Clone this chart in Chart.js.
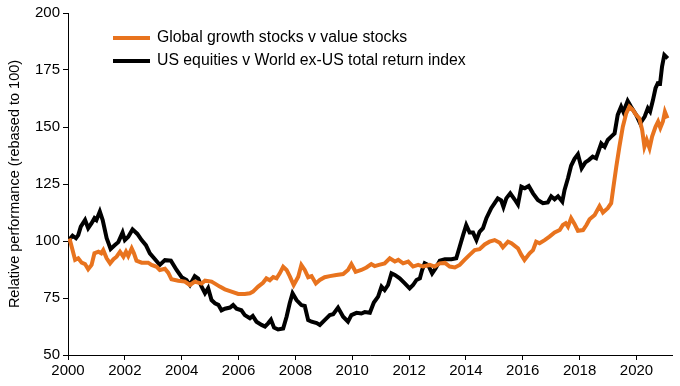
<!DOCTYPE html>
<html>
<head>
<meta charset="utf-8">
<script src="https://cdn.jsdelivr.net/npm/chart.js@4"></script>
<style>
  html, body { margin: 0; padding: 0; background: #fff; }
  #wrap { width: 680px; height: 386px; }
</style>
</head>
<body>
<div id="wrap"><canvas id="perfChart"></canvas></div>
<script>
// Series labels
const seriesNames = ['Global growth stocks v value stocks', 'US equities v World ex-US total return index'];

// Global growth v value (year, index)
const growthDates = [2000.0, 2000.07, 2000.16, 2000.25, 2000.36, 2000.48, 2000.6, 2000.71, 2000.83, 2000.93,
  2001.07, 2001.17, 2001.24, 2001.36, 2001.48, 2001.6, 2001.71, 2001.83, 2001.95, 2002.04,
  2002.12, 2002.24, 2002.32, 2002.41, 2002.59, 2002.82, 2002.94, 2003.12, 2003.23, 2003.41,
  2003.53, 2003.64, 2003.88, 2004.11, 2004.29, 2004.46, 2004.7, 2004.82, 2005.05, 2005.17,
  2005.34, 2005.52, 2005.75, 2005.99, 2006.22, 2006.4, 2006.51, 2006.69, 2006.86, 2006.98,
  2007.1, 2007.22, 2007.34, 2007.45, 2007.57, 2007.69, 2007.8, 2007.94, 2008.1, 2008.21,
  2008.33, 2008.45, 2008.57, 2008.72, 2008.86, 2009.03, 2009.21, 2009.44, 2009.68, 2009.85,
  2009.97, 2010.12, 2010.32, 2010.5, 2010.67, 2010.79, 2010.94, 2011.14, 2011.32, 2011.5,
  2011.62, 2011.79, 2011.97, 2012.14, 2012.32, 2012.49, 2012.73, 2012.9, 2013.08, 2013.26,
  2013.43, 2013.61, 2013.78, 2013.95, 2014.13, 2014.31, 2014.48, 2014.66, 2014.83, 2015.01,
  2015.19, 2015.3, 2015.48, 2015.6, 2015.83, 2015.95, 2016.06, 2016.24, 2016.36, 2016.47,
  2016.59, 2016.77, 2016.94, 2017.12, 2017.3, 2017.41, 2017.51, 2017.59, 2017.7, 2017.82,
  2017.94, 2018.12, 2018.24, 2018.35, 2018.53, 2018.7, 2018.82, 2018.99, 2019.11, 2019.19,
  2019.29, 2019.4, 2019.52, 2019.64, 2019.75, 2019.87, 2019.99, 2020.1, 2020.2, 2020.28,
  2020.36, 2020.46, 2020.55, 2020.67, 2020.76, 2020.84, 2020.93, 2021.0, 2021.09];
const growthValues = [100, 100.3, 96, 91.7, 92.4, 90.5, 89.9, 87.6, 89.5, 94.6,
  95.3, 94.6, 96, 92.4, 90.2, 92, 93.1, 95.3, 93.1, 95.3,
  93.4, 96.8, 94.6, 91.4, 90.5, 90.5, 89.5, 88.7, 87.3, 87.8,
  86, 83.2, 82.6, 82.2, 80.7, 82.2, 81.3, 82.6, 82.2, 81.3,
  80, 78.8, 77.8, 76.8, 76.8, 77.1, 77.8, 80, 81.7, 83.6,
  82.8, 84.2, 83.6, 85.8, 88.7, 87.3, 84.6, 80.7, 84.3, 89.5,
  87.3, 84.1, 84.6, 81.4, 82.9, 84.1, 84.6, 85.1, 85.5, 87.3,
  89.9, 86.5, 87.3, 88.4, 89.9, 89, 89.5, 90.2, 92.4, 91,
  91.7, 90.2, 91, 88.8, 89.5, 88.8, 89.5, 88.8, 90.2, 90.4,
  88.8, 88.4, 89.5, 91.7, 93.9, 96, 96.4, 98.5, 99.7, 100.4,
  99.2, 97.2, 99.7, 99, 96.8, 93.9, 91.7, 94.6, 96, 99.7,
  99, 100.4, 101.9, 103.7, 104.8, 107, 107.8, 106.3, 110, 107.5,
  104.5, 104.8, 107, 109.5, 111.4, 115.3, 112.5, 114.4, 116.6, 123.8,
  132.6, 141.4, 150.1, 156, 158.9, 157.5, 155.3, 153.8, 148.7, 141.4,
  144.3, 140.7, 145.8, 150.1, 152.4, 149.6, 152.4, 156.7, 153.8];

// US equities v World ex-US (year, index)
const usDates = [2000.0, 2000.07, 2000.16, 2000.28, 2000.36, 2000.45, 2000.6, 2000.71, 2000.83, 2000.93,
  2001.0, 2001.12, 2001.22, 2001.36, 2001.5, 2001.65, 2001.77, 2001.92, 2002.0, 2002.12,
  2002.27, 2002.44, 2002.59, 2002.74, 2002.88, 2003.06, 2003.23, 2003.41, 2003.62, 2003.82,
  2004.0, 2004.17, 2004.29, 2004.46, 2004.58, 2004.7, 2004.82, 2004.93, 2005.05, 2005.17,
  2005.29, 2005.4, 2005.52, 2005.7, 2005.81, 2005.93, 2006.1, 2006.22, 2006.4, 2006.5,
  2006.63, 2006.81, 2006.93, 2007.04, 2007.14, 2007.25, 2007.39, 2007.57, 2007.69, 2007.8,
  2007.9, 2008.04, 2008.21, 2008.33, 2008.45, 2008.57, 2008.75, 2008.86, 2009.03, 2009.21,
  2009.33, 2009.5, 2009.68, 2009.85, 2009.97, 2010.15, 2010.32, 2010.44, 2010.62, 2010.76,
  2010.91, 2011.03, 2011.14, 2011.26, 2011.38, 2011.5, 2011.67, 2011.85, 2012.02, 2012.14,
  2012.26, 2012.38, 2012.46, 2012.55, 2012.67, 2012.81, 2012.93, 2013.08, 2013.26, 2013.49,
  2013.66, 2013.78, 2013.9, 2014.01, 2014.13, 2014.25, 2014.37, 2014.48, 2014.6, 2014.72,
  2014.89, 2015.01, 2015.12, 2015.24, 2015.32, 2015.42, 2015.56, 2015.71, 2015.83, 2015.95,
  2016.07, 2016.21, 2016.36, 2016.53, 2016.71, 2016.88, 2017.0, 2017.12, 2017.24, 2017.39,
  2017.47, 2017.59, 2017.7, 2017.82, 2017.94, 2018.07, 2018.2, 2018.32, 2018.46, 2018.58,
  2018.76, 2018.88, 2018.99, 2019.11, 2019.23, 2019.34, 2019.46, 2019.54, 2019.69, 2019.81,
  2019.99, 2020.13, 2020.29, 2020.4, 2020.48, 2020.58, 2020.67, 2020.75, 2020.83, 2020.9,
  2020.98, 2021.1];
const usValues = [100, 101, 102.3, 101.2, 102.6, 106.3, 109.2, 105.6, 107.8, 110,
  109.2, 112.9, 109.2, 101.2, 96.5, 98.2, 99.5, 103.7, 100.4, 101.9,
  105.1, 103.1, 100.4, 98.2, 94.6, 92, 89.5, 91.6, 91.4, 87.3,
  84.1, 82.9, 80.7, 84.6, 83.5, 80, 77.1, 79.3, 74.1, 72.7,
  72, 69.6, 70.3, 70.8, 71.9, 70.3, 69.6, 67.5, 66.1, 67.1,
  64.6, 63.2, 62.5, 63.9, 65.5, 62, 61.2, 61.6, 66.8, 72.7,
  77.1, 74.1, 71.9, 71.5, 65.3, 64.6, 64, 63.2, 65.3, 67.5,
  67.9, 70.8, 66.8, 64.6, 67.5, 68.5, 68.2, 68.8, 68.5, 73,
  75.6, 80, 78.5, 80.7, 85.8, 85.1, 83.6, 81.4, 79.2, 80.7,
  82.9, 83.6, 87.3, 90.2, 89.5, 85.8, 88, 91.4, 92, 92,
  92.4, 97.5, 102.6, 107, 103.7, 103.7, 100.4, 104, 105.6, 110,
  114.4, 116.6, 118.7, 117.8, 114.9, 118.7, 120.9, 118.3, 116, 123.8,
  123.1, 124.1, 120.9, 118, 116.6, 116.9, 119.6, 118.3, 119.6, 117.3,
  122.4, 127.5, 133, 136, 138, 131.9, 134.5, 135.5, 137, 136.3,
  142.8, 141.3, 144.3, 145.8, 147.2, 155.3, 158.9, 156.6, 161.5, 158.9,
  155.3, 151.6, 154.6, 158.2, 156.8, 161.8, 167, 169.2, 169, 176.5,
  181.6, 180.1];

const yTicks = [50, 75, 100, 125, 150, 175, 200];
const xTicks = [2000, 2002, 2004, 2006, 2008, 2010, 2012, 2014, 2016, 2018, 2020];

const ORANGE = '#E8731E';
const FONT = '"Liberation Sans", Arial, sans-serif';

const toPoints = (xs, ys) => xs.map((x, i) => ({ x: x, y: ys[i] }));

// legend drawn inside the plot area, top left
const insideLegend = {
    id: 'insideLegend',
    afterDraw(chart) {
        const ctx = chart.ctx;
        const area = chart.chartArea;
        const rows = [
            { color: ORANGE, text: seriesNames[0], y: area.top + 25 },
            { color: '#000', text: seriesNames[1], y: area.top + 48 }
        ];
        ctx.save();
        ctx.font = '15.8px ' + FONT;
        ctx.textBaseline = 'middle';
        rows.forEach(r => {
            ctx.strokeStyle = r.color;
            ctx.lineWidth = 4;
            ctx.beginPath();
            ctx.moveTo(area.left + 45, r.y);
            ctx.lineTo(area.left + 82, r.y);
            ctx.stroke();
            ctx.fillStyle = '#000';
            ctx.fillText(r.text, area.left + 89, r.y);
        });
        ctx.restore();
    }
};

new Chart(document.getElementById('perfChart'), {
    type: 'line',
    data: {
        datasets: [
            {
                label: seriesNames[0],
                data: toPoints(growthDates, growthValues),
                borderColor: ORANGE,
                borderWidth: 4,
                pointRadius: 0,
                tension: 0,
                order: 0
            },
            {
                label: seriesNames[1],
                data: toPoints(usDates, usValues),
                borderColor: '#000',
                borderWidth: 4,
                pointRadius: 0,
                tension: 0,
                order: 1
            }
        ]
    },
    options: {
        responsive: true,
        maintainAspectRatio: false,
        animation: false,
        layout: { padding: { top: 13, right: 8, left: 6, bottom: 0 } },
        plugins: {
            legend: { display: false },
            tooltip: { enabled: false }
        },
        scales: {
            x: {
                type: 'linear',
                min: 2000,
                max: 2021.25,
                afterBuildTicks: s => { s.ticks = xTicks.map(v => ({ value: v })); },
                afterFit: s => { s.height = 31; },
                ticks: {
                    color: '#000',
                    font: { family: FONT, size: 15 },
                    padding: 2,
                    maxRotation: 0,
                    autoSkip: false,
                    callback: v => String(v)
                },
                grid: { drawOnChartArea: false, drawTicks: true, tickLength: 5, color: '#000' },
                border: { color: '#000', width: 1 }
            },
            y: {
                min: 50,
                max: 200,
                afterBuildTicks: s => { s.ticks = yTicks.map(v => ({ value: v })); },
                afterFit: s => { s.width = 62; },
                ticks: {
                    color: '#000',
                    font: { family: FONT, size: 15 },
                    padding: 3
                },
                title: {
                    display: true,
                    text: 'Relative performance (rebased to 100)',
                    color: '#000',
                    font: { family: FONT, size: 14.5 },
                    padding: { top: 0, bottom: 2 }
                },
                grid: { drawOnChartArea: false, drawTicks: true, tickLength: 5, color: '#000' },
                border: { color: '#000', width: 1 }
            }
        }
    },
    plugins: [insideLegend]
});
</script>
</body>
</html>
